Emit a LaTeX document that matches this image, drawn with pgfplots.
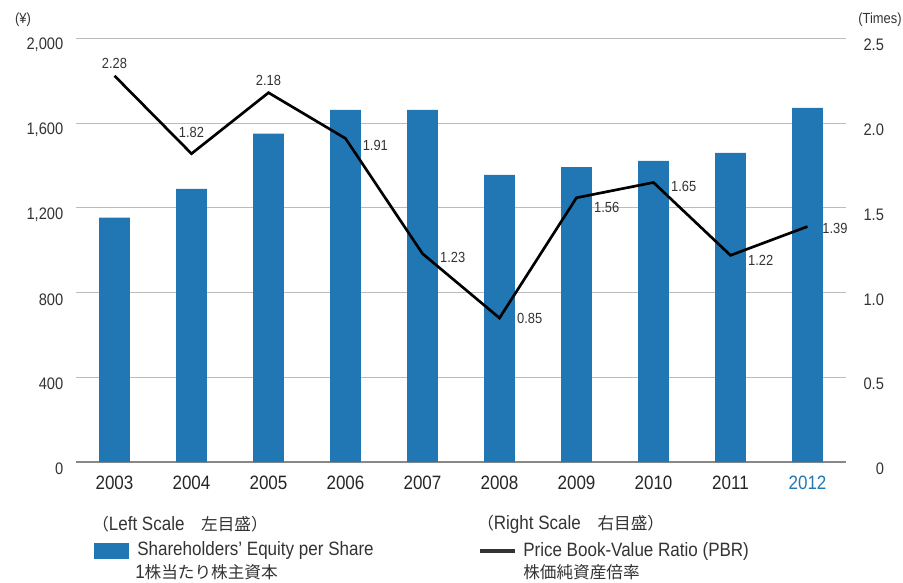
\documentclass[border=0pt]{standalone}
\usepackage{fontspec}
\setmainfont{Liberation Sans}[FakeStretch=0.88]
\newfontfamily\cjk{Noto Sans CJK JP}[Scale=0.86]
\usepackage{pgfplots}
\pgfplotsset{compat=1.18}
\definecolor{barblue}{HTML}{2077B4}
\definecolor{txt}{HTML}{333333}
\definecolor{gridc}{HTML}{BBBBBB}
\definecolor{axc}{HTML}{888888}
\begin{document}
\begin{tikzpicture}
\useasboundingbox (-57pt,-90pt) rectangle (620.25pt,346.5pt);
\begin{axis}[
  at={(0,0)}, anchor=south west, scale only axis,
  width=577.5pt, height=317.625pt,
  xmin=-0.5, xmax=9.5, ymin=0, ymax=2000,
  ytick={0,400,800,1200,1600,2000},
  xtick={0,...,9},
  xticklabels={2003,2004,2005,2006,2007,2008,2009,2010,2011,\textcolor{barblue}{2012}},
  ymajorgrids, grid style={gridc, line width=0.8pt},
  axis x line*=bottom, axis y line*=left,
  x axis line style={axc, line width=1.4pt, -},
  y axis line style={draw=none},
  major tick length=0pt,
  /pgf/number format/assume math mode=true,
  /pgf/number format/1000 sep={,},
  yticklabel style={font=\fontsize{12.5pt}{14pt}\selectfont, text=txt, anchor=east, xshift=-6pt, yshift=-5pt},
  xticklabel style={font=\fontsize{14.5pt}{16pt}\selectfont, text=black!85, yshift=-7pt},
]
\addplot[ybar, bar width=22.9pt, fill=barblue, draw=none] coordinates {
(0,1154) (1,1290) (2,1551) (3,1663) (4,1663) (5,1356) (6,1393) (7,1422) (8,1460) (9,1672)};
\end{axis}
\begin{axis}[
  at={(0,0)}, anchor=south west, scale only axis,
  width=577.5pt, height=317.625pt,
  xmin=-0.5, xmax=9.5, ymin=0, ymax=2.5,
  axis x line=none, axis y line*=right,
  y axis line style={draw=none},
  major tick length=0pt,
  ytick={0,0.5,1,1.5,2,2.5},
  yticklabels={0,0.5,1.0,1.5,2.0,2.5},
  yticklabel style={font=\fontsize{12.5pt}{14pt}\selectfont, text=txt, anchor=east, xshift=32pt, yshift=-5pt},
  clip=false,
]
\addplot[black, line width=2pt] coordinates {
(0,2.28) (1,1.82) (2,2.18) (3,1.91) (4,1.23) (5,0.85) (6,1.56) (7,1.65) (8,1.22) (9,1.39)};
\begin{scope}[every node/.style={font=\fontsize{11pt}{12pt}\selectfont, text=txt, inner sep=0pt}]
\node[anchor=south, yshift=5pt] at (axis cs:0,2.28) {2.28};
\node[anchor=center, yshift=15.75pt] at (axis cs:1,1.82) {1.82};
\node[anchor=south, yshift=5pt] at (axis cs:2,2.18) {2.18};
\node[anchor=west, xshift=12.75pt, yshift=-5pt] at (axis cs:3,1.91) {1.91};
\node[anchor=west, xshift=13pt, yshift=-3pt] at (axis cs:4,1.23) {1.23};
\node[anchor=west, xshift=13pt, yshift=0pt] at (axis cs:5,0.85) {0.85};
\node[anchor=west, xshift=13pt, yshift=-7pt] at (axis cs:6,1.56) {1.56};
\node[anchor=west, xshift=13pt, yshift=-3pt] at (axis cs:7,1.65) {1.65};
\node[anchor=west, xshift=13pt, yshift=-4pt] at (axis cs:8,1.22) {1.22};
\node[anchor=west, xshift=11pt, yshift=-1.5pt] at (axis cs:9,1.39) {1.39};
\end{scope}
\end{axis}
\begin{scope}[x=0.75pt, y=-0.75pt, shift={(-57pt,346.5pt)}, every node/.style={inner sep=0pt, text=txt}]
\node[anchor=center, font=\fontsize{11pt}{12pt}\selectfont] at (23,20) {(¥)};
\node[anchor=center, font=\fontsize{11pt}{12pt}\selectfont] at (880,20) {(Times)};
\node[anchor=west, font=\fontsize{14.5pt}{16pt}\selectfont] at (92,524) {{\cjk （}Left Scale{\cjk 　左目盛）}};
\fill[barblue] (94,543) rectangle (129,559);
\node[anchor=west, font=\fontsize{14.5pt}{16pt}\selectfont] at (137,551) {Shareholders’ Equity per Share};
\node[anchor=west, font=\fontsize{14.5pt}{16pt}\selectfont] at (135,572) {1{\cjk 株当たり株主資本}};
\node[anchor=west, font=\fontsize{14.5pt}{16pt}\selectfont] at (477,524) {{\cjk （}Right Scale{\cjk 　右目盛）}};
\draw[txt, line width=2.4pt] (480,551) -- (515,551);
\node[anchor=west, font=\fontsize{14.5pt}{16pt}\selectfont] at (523,551) {Price Book-Value Ratio (PBR)};
\node[anchor=west, font=\fontsize{14.5pt}{16pt}\selectfont] at (523,572) {{\cjk 株価純資産倍率}};
\end{scope}
\end{tikzpicture}
\end{document}
